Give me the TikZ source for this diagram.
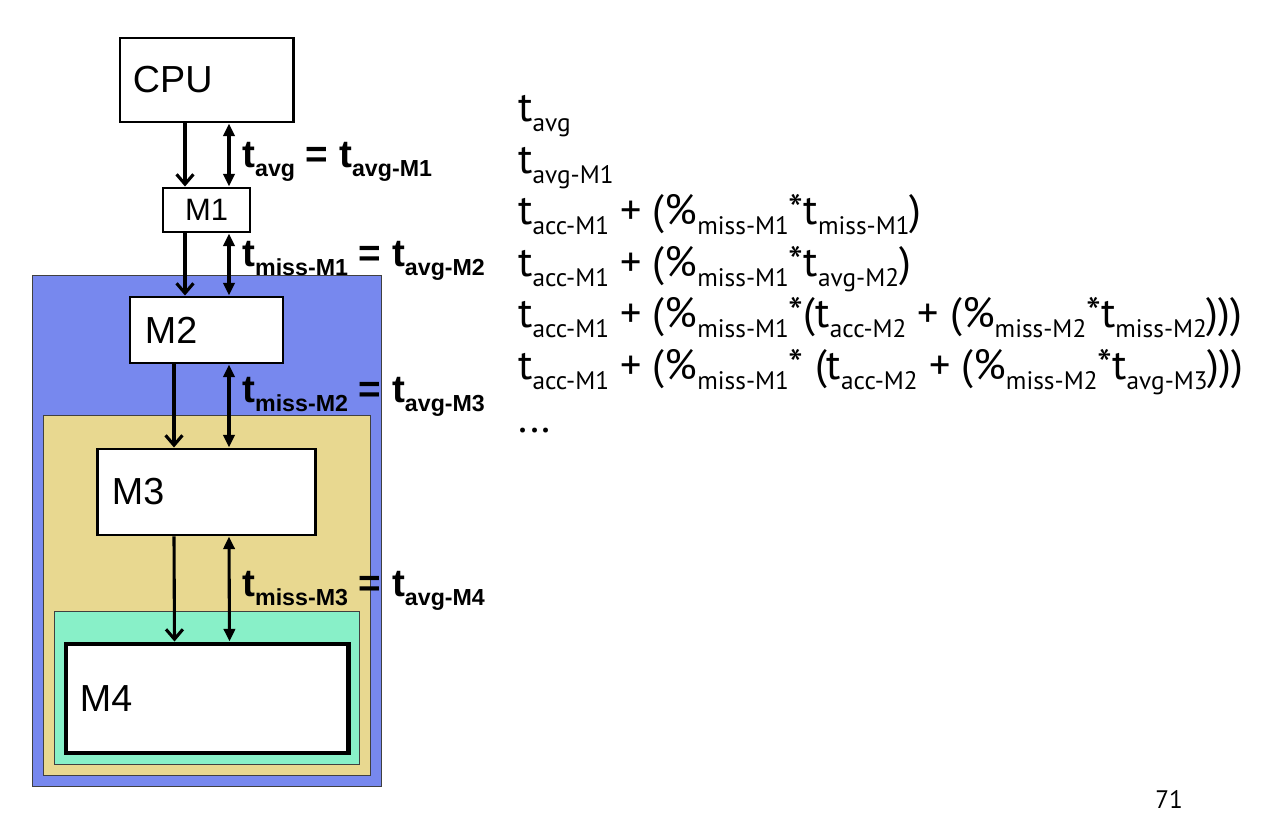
\documentclass[tikz,border=0pt]{standalone}
\usepackage{fontspec}
\setmainfont{Liberation Sans}
\newfontfamily\eqfont{PT Sans}
\usetikzlibrary{arrows.meta,calc}

\definecolor{blueMem}{RGB}{119,136,238}
\definecolor{tanMem}{RGB}{232,216,144}
\definecolor{greenMem}{RGB}{136,240,200}

\newcommand{\lo}[1]{\raisebox{-0.23em}{\scalebox{0.6}{#1}}}

\begin{document}
\begin{tikzpicture}[x=0.025cm,y=-0.025cm,
  membox/.style={draw,line width=2.1pt,fill=white,inner sep=0pt,font=\fontsize{26.8}{30}\selectfont},
  level/.style={draw=black!75,line width=0.7pt,inner sep=0pt},
  fetch/.style={line width=2.2pt,-{Straight Barb[length=7pt,width=12pt]}},
  xfer/.style={line width=2.2pt,{Triangle[length=9pt,width=8pt]}-{Triangle[length=9pt,width=8pt]}},
  tlabel/.style={anchor=base west,inner sep=0pt,font=\bfseries\fontsize{27.5}{30}\selectfont},
  eqline/.style={anchor=base west,inner sep=0pt,font=\eqfont\fontsize{30}{34}\selectfont}]
  \useasboundingbox (0,0) rectangle (1278,826);

  % nested memory levels
  \node[level,fill=blueMem,minimum width=8.7cm,minimum height=12.75cm] (lvl2) at (207,531) {};
  \node[level,fill=tanMem,minimum width=8.15cm,minimum height=8.975cm] (lvl3) at (207,595.5) {};
  \node[level,fill=greenMem,minimum width=7.6cm,minimum height=3.8cm] (lvl4) at (207,688) {};

  % processor and memories
  \node[membox,minimum width=4.325cm,minimum height=2.1cm,text width=3.675cm,inner xsep=0.325cm,align=left] (cpu) at (206.5,80) {CPU};
  \node[membox,minimum width=2.175cm,minimum height=1.1cm,font=\fontsize{22}{24}\selectfont] (m1) at (206.5,210) {M1};
  \node[membox,minimum width=3.825cm,minimum height=1.65cm,text width=3.075cm,inner xsep=0.375cm,align=left] (m2) at (206.5,330) {M2};
  \node[membox,minimum width=5.425cm,minimum height=2.15cm,text width=4.725cm,inner xsep=0.35cm,align=left] (m3) at (206.5,492) {M3};
  \node[membox,line width=3.5pt,minimum width=7.05cm,minimum height=2.725cm,text width=6.35cm,inner xsep=0.35cm,align=left] (m4) at (207,698.5) {M4};

  % requests down, times back up
  \draw[fetch] ($(cpu.south)+(-21.5,0)$) -- ($(m1.north)+(-21.5,0)$);
  \draw[xfer] ($(cpu.south)+(22.5,0)$) -- ($(m1.north)+(22.5,0)$);
  \draw[fetch] ($(m1.south)+(-21.5,0)$) -- ($(m2.north)+(-21.5,0)$);
  \draw[xfer] ($(m1.south)+(22.5,0)$) -- ($(m2.north)+(22.5,0)$);
  \draw[fetch] ($(m2.south)+(-32.5,0)$) -- ($(m3.north)+(-32.5,0)$);
  \draw[xfer] ($(m2.south)+(22.5,0)$) -- ($(m3.north)+(22.5,0)$);
  \draw[fetch] ($(m3.south)+(-32.5,0)$) -- ($(m4.north)+(-32.5,0)$);
  \draw[xfer] ($(m3.south)+(22.5,0)$) -- ($(m4.north)+(22.5,0)$);

  % time at each interface
  \node[tlabel] (t1) at (242,168) {t\lo{avg} = t\lo{avg-M1}};
  \node[tlabel] (t2) at (242,267) {t\lo{miss-M1} = t\lo{avg-M2}};
  \node[tlabel] (t3) at (242,403) {t\lo{miss-M2} = t\lo{avg-M3}};
  \node[tlabel] (t4) at (242,597) {t\lo{miss-M3} = t\lo{avg-M4}};

  % expansion of t_avg
  \node[eqline] (eq1) at (518,122) {t\lo{avg}};
  \node[eqline] (eq2) at (518,173.7) {t\lo{avg-M1}};
  \node[eqline] (eq3) at (518,225) {t\lo{acc-M1} + (\%\lo{miss-M1}*t\lo{miss-M1})};
  \node[eqline] (eq4) at (518,277) {t\lo{acc-M1} + (\%\lo{miss-M1}*t\lo{avg-M2})};
  \node[eqline] (eq5) at (518,328) {t\lo{acc-M1} + (\%\lo{miss-M1}*(t\lo{acc-M2} + (\%\lo{miss-M2}*t\lo{miss-M2})))};
  \node[eqline] (eq6) at (518,380) {t\lo{acc-M1} + (\%\lo{miss-M1}* (t\lo{acc-M2} + (\%\lo{miss-M2}*t\lo{avg-M3})))};
  \node[eqline] (eq7) at (518,433) {...};

  \node[anchor=base west,inner sep=0pt,font=\eqfont\fontsize{18}{20}\selectfont] (page) at (1155,808) {71};
\end{tikzpicture}
\end{document}
